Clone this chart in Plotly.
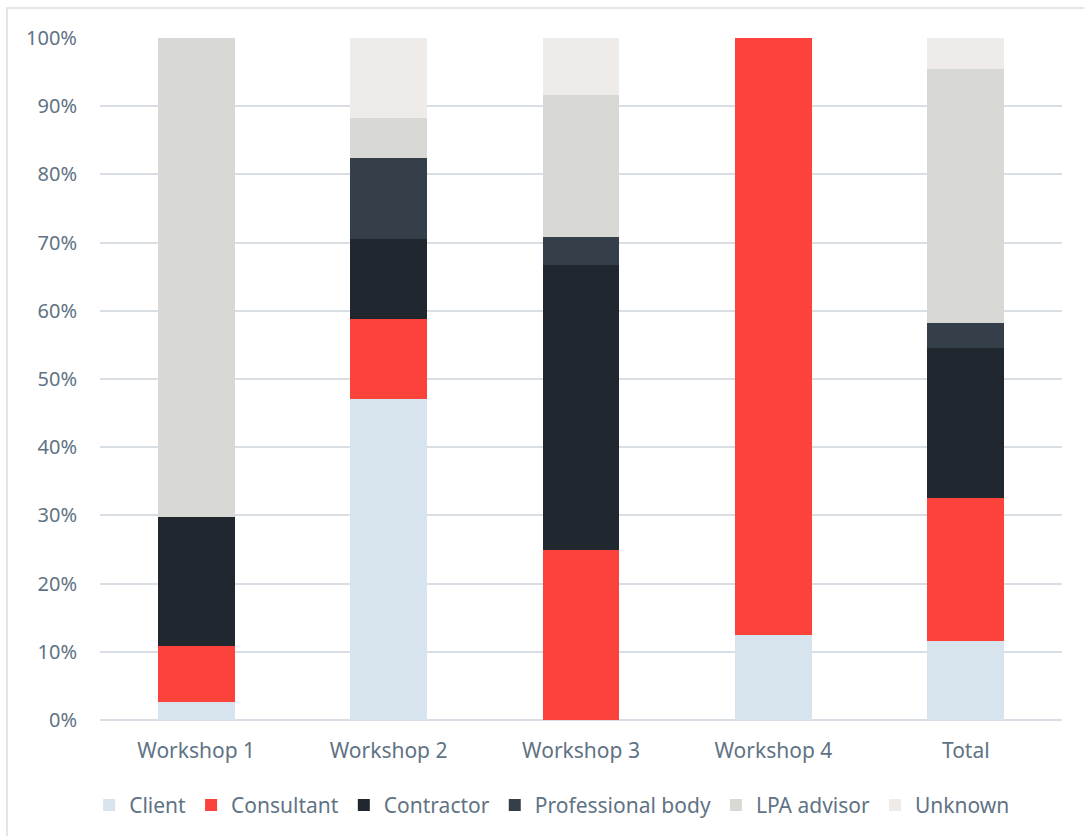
import plotly.graph_objects as go

categories = ["Workshop 1", "Workshop 2", "Workshop 3", "Workshop 4", "Total"]
series_names = ["Client", "Consultant", "Contractor", "Professional body", "LPA advisor", "Unknown"]
client = [2.6, 47.1, 0.0, 12.5, 11.6]
consultant = [8.3, 11.7, 25.0, 87.5, 21.0]
contractor = [18.8, 11.8, 41.7, 0.0, 21.9]
professional_body = [0.0, 11.8, 4.1, 0.0, 3.7]
lpa_advisor = [70.3, 5.9, 20.8, 0.0, 37.3]
unknown = [0.0, 11.7, 8.4, 0.0, 4.5]
colors = ["#d7e4ee", "#fb433b", "#20272e", "#353f4a", "#d8d8d4", "#efebe8"]
tick_vals = [0, 10, 20, 30, 40, 50, 60, 70, 80, 90, 100]
tick_text = [f"{v}%" for v in tick_vals]

series = [client, consultant, contractor, professional_body, lpa_advisor, unknown]

fig = go.Figure()
for name, vals, col in zip(series_names, series, colors):
    fig.add_trace(go.Bar(x=categories, y=vals, name=name, marker=dict(color=col, line=dict(width=0)), width=0.4))

fig.update_layout(
    barmode="stack",
    width=1084, height=836,
    margin=dict(l=100, r=22, t=38, b=116, autoexpand=False),
    plot_bgcolor="white", paper_bgcolor="white",
    font=dict(family="Noto Sans", size=20, color="#5f7384"),
    showlegend=True,
    legend=dict(orientation="h", x=0.47, xanchor="center", y=-0.095, yanchor="top",
                font=dict(size=21, color="#5f7384"), traceorder="normal", itemwidth=30),
    yaxis=dict(range=[0, 100], tickvals=tick_vals, ticktext=tick_text, showgrid=True,
               gridcolor="#d9dee4", gridwidth=1.5, zeroline=True, zerolinecolor="#d9dee4", zerolinewidth=1.5,
               ticks="", ticklabelstandoff=22, tickfont=dict(size=20), automargin=False),
    xaxis=dict(showgrid=False, ticks="", ticklabelstandoff=16, tickfont=dict(size=21), automargin=False),
    shapes=[dict(type="rect", xref="paper", yref="paper",
                 x0=(7 - 100) / 962, x1=(1095 - 100) / 962,
                 y0=(720 - 850) / 682, y1=1 + (38 - 8) / 682,
                 line=dict(color="#d9dee4", width=1.5), fillcolor="rgba(0,0,0,0)", layer="below")],
)

fig.write_html("out.html")
